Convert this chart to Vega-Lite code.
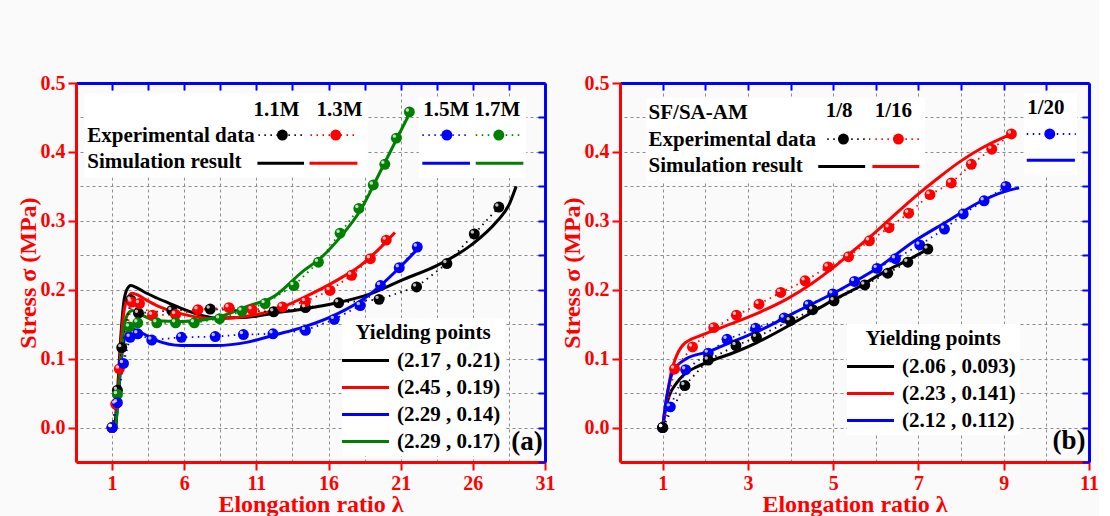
{
"$schema":"https://vega.github.io/schema/vega-lite/v6.json",
"background":"#fafafa",
"padding":{"left":16,"top":73,"right":0,"bottom":0},
"bounds":"flush",
"spacing":75,
"config":{
 "view":{"stroke":null},
 "axis":{"labelFont":"Liberation Serif","labelFontWeight":"bold","labelFontSize":20,"labelColor":"#ff0000","titleFont":"Liberation Serif","titleFontWeight":"bold","titleFontSize":24,"titleColor":"#ff0000","domainColor":"#ff0000","domainWidth":3,"tickColor":"#ff0000","tickWidth":2,"tickSize":8,"gridColor":"#8c8c8c","gridDash":[3,3],"gridWidth":1,"labelPadding":3,"titlePadding":0,"labelOverlap":false,"labelFlush":false,"labelBound":false},
 "axisBottom":{"titlePadding":-1},
 "text":{"font":"Liberation Serif","fontWeight":"bold","fontSize":21,"color":"black","baseline":"middle"},
 "rule":{"strokeWidth":3}
},
"datasets":{
 "a_sim":[
  {"s":"1.1M","x":1.2,"y":0},{"s":"1.1M","x":1.4,"y":0.06},{"s":"1.1M","x":1.6,"y":0.13},{"s":"1.1M","x":1.8,"y":0.18},{"s":"1.1M","x":2.0,"y":0.199},{"s":"1.1M","x":2.3,"y":0.206},{"s":"1.1M","x":2.7,"y":0.203},{"s":"1.1M","x":3.2,"y":0.197},{"s":"1.1M","x":4.1,"y":0.188},{"s":"1.1M","x":5.0,"y":0.18},{"s":"1.1M","x":5.8,"y":0.173},{"s":"1.1M","x":7.0,"y":0.164},{"s":"1.1M","x":8.3,"y":0.159},{"s":"1.1M","x":10.4,"y":0.16},{"s":"1.1M","x":12.2,"y":0.166},{"s":"1.1M","x":14.3,"y":0.172},{"s":"1.1M","x":16.6,"y":0.181},{"s":"1.1M","x":18.9,"y":0.194},{"s":"1.1M","x":21.2,"y":0.215},{"s":"1.1M","x":23.5,"y":0.235},{"s":"1.1M","x":25.9,"y":0.265},{"s":"1.1M","x":27.7,"y":0.3},{"s":"1.1M","x":28.5,"y":0.323},{"s":"1.1M","x":29.0,"y":0.35},
  {"s":"1.3M","x":1.25,"y":0},{"s":"1.3M","x":1.45,"y":0.06},{"s":"1.3M","x":1.65,"y":0.13},{"s":"1.3M","x":1.85,"y":0.172},{"s":"1.3M","x":2.1,"y":0.189},{"s":"1.3M","x":2.4,"y":0.195},{"s":"1.3M","x":2.8,"y":0.192},{"s":"1.3M","x":3.3,"y":0.186},{"s":"1.3M","x":4.1,"y":0.177},{"s":"1.3M","x":5.8,"y":0.165},{"s":"1.3M","x":8.3,"y":0.158},{"s":"1.3M","x":10.4,"y":0.162},{"s":"1.3M","x":12.2,"y":0.17},{"s":"1.3M","x":14.3,"y":0.189},{"s":"1.3M","x":16.6,"y":0.214},{"s":"1.3M","x":18.2,"y":0.235},{"s":"1.3M","x":19.4,"y":0.257},{"s":"1.3M","x":20.6,"y":0.283},
  {"s":"1.5M","x":1.25,"y":0},{"s":"1.5M","x":1.45,"y":0.05},{"s":"1.5M","x":1.65,"y":0.1},{"s":"1.5M","x":1.85,"y":0.128},{"s":"1.5M","x":2.1,"y":0.139},{"s":"1.5M","x":2.4,"y":0.143},{"s":"1.5M","x":2.9,"y":0.139},{"s":"1.5M","x":4.1,"y":0.126},{"s":"1.5M","x":5.8,"y":0.119},{"s":"1.5M","x":8.2,"y":0.119},{"s":"1.5M","x":10.4,"y":0.124},{"s":"1.5M","x":12.2,"y":0.134},{"s":"1.5M","x":14.3,"y":0.146},{"s":"1.5M","x":16.6,"y":0.165},{"s":"1.5M","x":18.45,"y":0.187},{"s":"1.5M","x":19.6,"y":0.206},{"s":"1.5M","x":21.2,"y":0.238},{"s":"1.5M","x":22.35,"y":0.263},
  {"s":"1.7M","x":1.25,"y":0},{"s":"1.7M","x":1.45,"y":0.05},{"s":"1.7M","x":1.65,"y":0.11},{"s":"1.7M","x":1.85,"y":0.148},{"s":"1.7M","x":2.1,"y":0.165},{"s":"1.7M","x":2.4,"y":0.17},{"s":"1.7M","x":2.9,"y":0.165},{"s":"1.7M","x":4.1,"y":0.155},{"s":"1.7M","x":5.8,"y":0.154},{"s":"1.7M","x":8.3,"y":0.16},{"s":"1.7M","x":10.4,"y":0.176},{"s":"1.7M","x":12.2,"y":0.19},{"s":"1.7M","x":14.3,"y":0.228},{"s":"1.7M","x":15.4,"y":0.245},{"s":"1.7M","x":16.8,"y":0.276},{"s":"1.7M","x":18.2,"y":0.315},{"s":"1.7M","x":19.6,"y":0.372},{"s":"1.7M","x":20.8,"y":0.422},{"s":"1.7M","x":21.5,"y":0.451}
 ],
 "a_exp":[
  {"s":"1.1M","x":1,"y":0},{"s":"1.1M","x":1.37,"y":0.054},{"s":"1.1M","x":1.67,"y":0.116},{"s":"1.1M","x":2.3,"y":0.185},{"s":"1.1M","x":2.83,"y":0.166},{"s":"1.1M","x":5.14,"y":0.17},{"s":"1.1M","x":7.8,"y":0.172},{"s":"1.1M","x":12.2,"y":0.168},{"s":"1.1M","x":14.4,"y":0.174},{"s":"1.1M","x":16.7,"y":0.181},{"s":"1.1M","x":19.5,"y":0.186},{"s":"1.1M","x":22.1,"y":0.204},{"s":"1.1M","x":24.2,"y":0.238},{"s":"1.1M","x":26.1,"y":0.281},{"s":"1.1M","x":27.8,"y":0.32},
  {"s":"1.3M","x":1,"y":0},{"s":"1.3M","x":1.25,"y":0.034},{"s":"1.3M","x":1.5,"y":0.085},{"s":"1.3M","x":2.37,"y":0.182},{"s":"1.3M","x":2.9,"y":0.18},{"s":"1.3M","x":3.8,"y":0.163},{"s":"1.3M","x":5.4,"y":0.164},{"s":"1.3M","x":6.95,"y":0.171},{"s":"1.3M","x":9.1,"y":0.174},{"s":"1.3M","x":10.7,"y":0.171},{"s":"1.3M","x":12.8,"y":0.175},{"s":"1.3M","x":14.4,"y":0.183},{"s":"1.3M","x":16.1,"y":0.199},{"s":"1.3M","x":17.6,"y":0.221},{"s":"1.3M","x":18.9,"y":0.245},{"s":"1.3M","x":20.0,"y":0.272},
  {"s":"1.7M","x":1,"y":0},{"s":"1.7M","x":1.37,"y":0.048},{"s":"1.7M","x":2.2,"y":0.146},{"s":"1.7M","x":2.78,"y":0.152},{"s":"1.7M","x":4.1,"y":0.152},{"s":"1.7M","x":5.4,"y":0.152},{"s":"1.7M","x":6.7,"y":0.152},{"s":"1.7M","x":8.45,"y":0.158},{"s":"1.7M","x":10.0,"y":0.169},{"s":"1.7M","x":11.6,"y":0.18},{"s":"1.7M","x":13.6,"y":0.206},{"s":"1.7M","x":15.3,"y":0.24},{"s":"1.7M","x":16.8,"y":0.282},{"s":"1.7M","x":18.1,"y":0.318},{"s":"1.7M","x":19.1,"y":0.352},{"s":"1.7M","x":19.9,"y":0.382},{"s":"1.7M","x":20.7,"y":0.42},{"s":"1.7M","x":21.6,"y":0.458},
  {"s":"1.5M","x":1,"y":0},{"s":"1.5M","x":1.37,"y":0.036},{"s":"1.5M","x":1.79,"y":0.093},{"s":"1.5M","x":2.25,"y":0.131},{"s":"1.5M","x":2.78,"y":0.136},{"s":"1.5M","x":3.75,"y":0.127},{"s":"1.5M","x":5.8,"y":0.131},{"s":"1.5M","x":8.15,"y":0.132},{"s":"1.5M","x":10.1,"y":0.135},{"s":"1.5M","x":12.15,"y":0.136},{"s":"1.5M","x":14.4,"y":0.141},{"s":"1.5M","x":16.4,"y":0.157},{"s":"1.5M","x":18.2,"y":0.177},{"s":"1.5M","x":19.6,"y":0.206},{"s":"1.5M","x":20.9,"y":0.232},{"s":"1.5M","x":22.15,"y":0.262}
 ],
 "b_sim":[
  {"s":"1/8","x":1,"y":0},{"s":"1/8","x":1.08,"y":0.03},{"s":"1/8","x":1.16,"y":0.047},{"s":"1/8","x":1.32,"y":0.064},{"s":"1/8","x":1.52,"y":0.078},{"s":"1/8","x":1.8,"y":0.088},{"s":"1/8","x":2.06,"y":0.095},{"s":"1/8","x":2.72,"y":0.11},{"s":"1/8","x":3.2,"y":0.123},{"s":"1/8","x":3.99,"y":0.149},{"s":"1/8","x":4.5,"y":0.167},{"s":"1/8","x":5.0,"y":0.185},{"s":"1/8","x":5.6,"y":0.204},{"s":"1/8","x":6.2,"y":0.226},{"s":"1/8","x":6.75,"y":0.243},{"s":"1/8","x":7.22,"y":0.259},
  {"s":"1/16","x":1,"y":0},{"s":"1/16","x":1.06,"y":0.03},{"s":"1/16","x":1.13,"y":0.055},{"s":"1/16","x":1.2,"y":0.08},{"s":"1/16","x":1.3,"y":0.1},{"s":"1/16","x":1.48,"y":0.12},{"s":"1/16","x":1.87,"y":0.133},{"s":"1/16","x":2.2,"y":0.141},{"s":"1/16","x":2.75,"y":0.154},{"s":"1/16","x":3.3,"y":0.168},{"s":"1/16","x":3.9,"y":0.186},{"s":"1/16","x":4.5,"y":0.209},{"s":"1/16","x":5.0,"y":0.232},{"s":"1/16","x":5.5,"y":0.258},{"s":"1/16","x":6.0,"y":0.284},{"s":"1/16","x":6.5,"y":0.312},{"s":"1/16","x":7.0,"y":0.339},{"s":"1/16","x":7.5,"y":0.364},{"s":"1/16","x":8.0,"y":0.387},{"s":"1/16","x":8.5,"y":0.406},{"s":"1/16","x":9.0,"y":0.421},{"s":"1/16","x":9.2,"y":0.426},
  {"s":"1/20","x":1,"y":0},{"s":"1/20","x":1.09,"y":0.042},{"s":"1/20","x":1.24,"y":0.081},{"s":"1/20","x":1.56,"y":0.1},{"s":"1/20","x":2.07,"y":0.11},{"s":"1/20","x":2.65,"y":0.125},{"s":"1/20","x":3.28,"y":0.141},{"s":"1/20","x":4.07,"y":0.166},{"s":"1/20","x":5.16,"y":0.2},{"s":"1/20","x":6.03,"y":0.231},{"s":"1/20","x":6.89,"y":0.27},{"s":"1/20","x":7.67,"y":0.299},{"s":"1/20","x":8.46,"y":0.328},{"s":"1/20","x":9.0,"y":0.342},{"s":"1/20","x":9.36,"y":0.348}
 ],
 "b_exp":[
  {"s":"1/16","x":1,"y":0},{"s":"1/16","x":1.28,"y":0.085},{"s":"1/16","x":1.7,"y":0.117},{"s":"1/16","x":2.2,"y":0.145},{"s":"1/16","x":2.73,"y":0.163},{"s":"1/16","x":3.26,"y":0.179},{"s":"1/16","x":3.77,"y":0.196},{"s":"1/16","x":4.34,"y":0.213},{"s":"1/16","x":4.88,"y":0.233},{"s":"1/16","x":5.36,"y":0.248},{"s":"1/16","x":5.85,"y":0.271},{"s":"1/16","x":6.31,"y":0.29},{"s":"1/16","x":6.77,"y":0.311},{"s":"1/16","x":7.27,"y":0.338},{"s":"1/16","x":7.77,"y":0.355},{"s":"1/16","x":8.24,"y":0.382},{"s":"1/16","x":8.72,"y":0.404},{"s":"1/16","x":9.18,"y":0.426},
  {"s":"1/20","x":1,"y":0},{"s":"1/20","x":1.18,"y":0.03},{"s":"1/20","x":1.54,"y":0.084},{"s":"1/20","x":2.07,"y":0.108},{"s":"1/20","x":2.51,"y":0.128},{"s":"1/20","x":3.18,"y":0.144},{"s":"1/20","x":3.85,"y":0.159},{"s":"1/20","x":4.42,"y":0.178},{"s":"1/20","x":4.99,"y":0.194},{"s":"1/20","x":5.5,"y":0.212},{"s":"1/20","x":6.03,"y":0.231},{"s":"1/20","x":6.46,"y":0.245},{"s":"1/20","x":7.03,"y":0.265},{"s":"1/20","x":7.61,"y":0.288},{"s":"1/20","x":8.05,"y":0.31},{"s":"1/20","x":8.54,"y":0.329},{"s":"1/20","x":9.05,"y":0.35},
  {"s":"1/8","x":1,"y":0},{"s":"1/8","x":1.52,"y":0.061},{"s":"1/8","x":2.07,"y":0.098},{"s":"1/8","x":2.72,"y":0.119},{"s":"1/8","x":3.2,"y":0.131},{"s":"1/8","x":3.99,"y":0.155},{"s":"1/8","x":4.52,"y":0.171},{"s":"1/8","x":5.02,"y":0.184},{"s":"1/8","x":5.74,"y":0.207},{"s":"1/8","x":6.28,"y":0.224},{"s":"1/8","x":6.75,"y":0.24},{"s":"1/8","x":7.22,"y":0.259}
 ]
},
"resolve":{"scale":{"color":"independent","fill":"independent","stroke":"independent"},"legend":{"color":"independent"}},
"hconcat":[
 {
  "width":469,"height":379,
  "resolve":{"axis":{"x":"independent","y":"independent"}},
  "layer":[
   {
    "data":{"values":[{}]},
    "layer":[
     {"mark":{"type":"rect","fill":"white"},"encoding":{"x":{"datum":-0.9},"x2":{"datum":18.7},"y":{"datum":0.485},"y2":{"datum":0.363}}},
     {"mark":{"type":"rect","fill":"white"},"encoding":{"x":{"datum":22.25},"x2":{"datum":29.7},"y":{"datum":0.48},"y2":{"datum":0.362}}},
     {"data":{"name":"a_sim"},"mark":{"type":"line","strokeWidth":3,"interpolate":"monotone"},
      "encoding":{
       "x":{"field":"x","type":"quantitative","scale":{"domain":[-1.5,31],"nice":false,"zero":false},
            "axis":{"title":"Elongation ratio λ","values":[1,6,11,16,21,26,31],"format":"d","grid":false}},
       "y":{"field":"y","type":"quantitative","scale":{"domain":[-0.05,0.5],"nice":false,"zero":false},
            "axis":{"title":"Stress σ (MPa)","values":[0,0.1,0.2,0.3,0.4,0.5],"format":".1f","grid":false}},
       "color":{"field":"s","type":"nominal","scale":{"domain":["1.1M","1.3M","1.5M","1.7M"],"range":["#000000","#ff0000","#0000ff","#008000"]},
            "legend":{"orient":"none","legendX":266,"legendY":235,"title":"Yielding points","titleFont":"Liberation Serif","titleFontSize":21,"titleFontWeight":"bold","titleColor":"black","titleAnchor":"middle","titlePadding":4,"labelFont":"Liberation Serif","labelFontSize":21,"labelFontWeight":"bold","labelColor":"black","symbolType":"M-2,0H2","symbolSize":552,"symbolStrokeWidth":3,"symbolOffset":6,"labelOffset":18,"rowPadding":3,"padding":4,"fillColor":"white",
             "labelExpr":"datum.label=='1.1M' ? '(2.17 , 0.21)' : datum.label=='1.3M' ? '(2.45 , 0.19)' : datum.label=='1.5M' ? '(2.29 , 0.14)' : '(2.29 , 0.17)'"}}}},
     {"data":{"name":"a_exp"},"mark":{"type":"line","strokeWidth":1.8,"strokeDash":[1.5,4.5]},
      "encoding":{"x":{"field":"x","type":"quantitative"},"y":{"field":"y","type":"quantitative"},
       "stroke":{"field":"s","type":"nominal","scale":{"domain":["1.1M","1.3M","1.5M","1.7M"],"range":["#000000","#ff0000","#0000ff","#008000"]},"legend":null}}},
     {"data":{"name":"a_exp"},"mark":{"type":"point","filled":true,"size":120,"opacity":1},
      "encoding":{"x":{"field":"x","type":"quantitative"},"y":{"field":"y","type":"quantitative"},
       "fill":{"field":"s","type":"nominal","scale":{"domain":["1.1M","1.3M","1.5M","1.7M"],"range":["#000000","#ff0000","#0000ff","#008000"]},"legend":null}}},
     {"data":{"name":"a_exp"},"mark":{"type":"point","filled":true,"size":12,"opacity":0.75,"color":"white","xOffset":-2,"yOffset":-2},
      "encoding":{"x":{"field":"x","type":"quantitative"},"y":{"field":"y","type":"quantitative"}}},
     {"mark":{"type":"text","align":"center"},"encoding":{"x":{"datum":12.4},"y":{"datum":0.461},"text":{"value":"1.1M"}}},
     {"mark":{"type":"text","align":"center"},"encoding":{"x":{"datum":16.76},"y":{"datum":0.461},"text":{"value":"1.3M"}}},
     {"mark":{"type":"text","align":"center"},"encoding":{"x":{"datum":24.16},"y":{"datum":0.461},"text":{"value":"1.5M"}}},
     {"mark":{"type":"text","align":"center"},"encoding":{"x":{"datum":27.7},"y":{"datum":0.461},"text":{"value":"1.7M"}}},
     {"mark":{"type":"text","align":"left"},"encoding":{"x":{"datum":-0.72},"y":{"datum":0.423},"text":{"value":"Experimental data"}}},
     {"mark":{"type":"text","align":"left"},"encoding":{"x":{"datum":-0.72},"y":{"datum":0.385},"text":{"value":"Simulation result"}}},
     {"mark":{"type":"rule","color":"#000000","strokeWidth":1.8,"strokeDash":[1.5,4.5]},"encoding":{"x":{"datum":11.14},"x2":{"datum":14.4},"y":{"datum":0.4244}}},
     {"mark":{"type":"rule","color":"#ff0000","strokeWidth":1.8,"strokeDash":[1.5,4.5]},"encoding":{"x":{"datum":14.75},"x2":{"datum":18.0},"y":{"datum":0.4244}}},
     {"mark":{"type":"rule","color":"#0000ff","strokeWidth":1.8,"strokeDash":[1.5,4.5]},"encoding":{"x":{"datum":22.5},"x2":{"datum":25.8},"y":{"datum":0.4244}}},
     {"mark":{"type":"rule","color":"#008000","strokeWidth":1.8,"strokeDash":[1.5,4.5]},"encoding":{"x":{"datum":26.2},"x2":{"datum":29.5},"y":{"datum":0.4244}}},
     {"mark":{"type":"point","filled":true,"size":120,"opacity":1,"color":"#000000"},"encoding":{"x":{"datum":12.8},"y":{"datum":0.4244}}},
     {"mark":{"type":"point","filled":true,"size":120,"opacity":1,"color":"#ff0000"},"encoding":{"x":{"datum":16.5},"y":{"datum":0.4244}}},
     {"mark":{"type":"point","filled":true,"size":120,"opacity":1,"color":"#0000ff"},"encoding":{"x":{"datum":24.2},"y":{"datum":0.4244}}},
     {"mark":{"type":"point","filled":true,"size":120,"opacity":1,"color":"#008000"},"encoding":{"x":{"datum":27.8},"y":{"datum":0.4244}}},
     {"mark":{"type":"rule","color":"#000000"},"encoding":{"x":{"datum":11.07},"x2":{"datum":14.3},"y":{"datum":0.3837}}},
     {"mark":{"type":"rule","color":"#ff0000"},"encoding":{"x":{"datum":14.68},"x2":{"datum":18.0},"y":{"datum":0.3837}}},
     {"mark":{"type":"rule","color":"#0000ff"},"encoding":{"x":{"datum":22.5},"x2":{"datum":25.8},"y":{"datum":0.3837}}},
     {"mark":{"type":"rule","color":"#008000"},"encoding":{"x":{"datum":26.2},"x2":{"datum":29.5},"y":{"datum":0.3837}}},
     {"mark":{"type":"text","align":"center","fontSize":27},"encoding":{"x":{"datum":29.75},"y":{"datum":-0.021},"text":{"value":"(a)"}}}
    ]
   },
   {
    "data":{"values":[{}]},
    "mark":{"type":"point","opacity":0},
    "encoding":{
     "x":{"datum":1,"type":"quantitative","scale":{"domain":[-1.5,31],"nice":false,"zero":false},"axis":{"orient":"top","values":[-1.5,1,3.5,6,8.5,11,13.5,16,18.5,21,23.5,26,28.5,31],"labels":false,"grid":true,"title":null,"domainColor":"#0000ff","tickColor":"#0000ff","tickSize":-7}},
     "y":{"datum":0,"type":"quantitative","scale":{"domain":[-0.05,0.5],"nice":false,"zero":false},"axis":{"orient":"right","values":[-0.05,0,0.05,0.1,0.15,0.2,0.25,0.3,0.35,0.4,0.45,0.5],"labels":false,"grid":true,"title":null,"domainColor":"#0000ff","tickColor":"#0000ff","tickSize":-7}}
    }
   }
  ]
 },
 {
  "width":469,"height":379,
  "resolve":{"axis":{"x":"independent","y":"independent"}},
  "layer":[
   {
    "data":{"values":[{}]},
    "layer":[
     {"mark":{"type":"rect","fill":"white"},"encoding":{"x":{"datum":0.62},"x2":{"datum":7.16},"y":{"datum":0.478},"y2":{"datum":0.358}}},
     {"mark":{"type":"rect","fill":"white"},"encoding":{"x":{"datum":9.47},"x2":{"datum":10.72},"y":{"datum":0.485},"y2":{"datum":0.366}}},
     {"data":{"name":"b_sim"},"mark":{"type":"line","strokeWidth":3,"interpolate":"monotone"},
      "encoding":{
       "x":{"field":"x","type":"quantitative","scale":{"domain":[0,11],"nice":false,"zero":false},
            "axis":{"title":"Elongation ratio λ","values":[1,3,5,7,9,11],"format":"d","grid":false}},
       "y":{"field":"y","type":"quantitative","scale":{"domain":[-0.05,0.5],"nice":false,"zero":false},
            "axis":{"title":"Stress σ (MPa)","values":[0,0.1,0.2,0.3,0.4,0.5],"format":".1f","grid":false}},
       "color":{"field":"s","type":"nominal","scale":{"domain":["1/8","1/16","1/20"],"range":["#000000","#ff0000","#0000ff"]},
            "legend":{"orient":"none","legendX":227,"legendY":241,"title":"Yielding points","titleFont":"Liberation Serif","titleFontSize":21,"titleFontWeight":"bold","titleColor":"black","titleAnchor":"middle","titlePadding":4,"labelFont":"Liberation Serif","labelFontSize":21,"labelFontWeight":"bold","labelColor":"black","symbolType":"M-2,0H2","symbolSize":552,"symbolStrokeWidth":3,"symbolOffset":6,"labelOffset":18,"rowPadding":3,"padding":4,"fillColor":"white",
             "labelExpr":"datum.label=='1/8' ? '(2.06 , 0.093)' : datum.label=='1/16' ? '(2.23 , 0.141)' : '(2.12 , 0.112)'"}}}},
     {"data":{"name":"b_exp"},"mark":{"type":"line","strokeWidth":1.8,"strokeDash":[1.5,4.5]},
      "encoding":{"x":{"field":"x","type":"quantitative"},"y":{"field":"y","type":"quantitative"},
       "stroke":{"field":"s","type":"nominal","scale":{"domain":["1/8","1/16","1/20"],"range":["#000000","#ff0000","#0000ff"]},"legend":null}}},
     {"data":{"name":"b_exp"},"mark":{"type":"point","filled":true,"size":120,"opacity":1},
      "encoding":{"x":{"field":"x","type":"quantitative"},"y":{"field":"y","type":"quantitative"},
       "fill":{"field":"s","type":"nominal","scale":{"domain":["1/8","1/16","1/20"],"range":["#000000","#ff0000","#0000ff"]},"legend":null}}},
     {"data":{"name":"b_exp"},"mark":{"type":"point","filled":true,"size":12,"opacity":0.75,"color":"white","xOffset":-2,"yOffset":-2},
      "encoding":{"x":{"field":"x","type":"quantitative"},"y":{"field":"y","type":"quantitative"}}},
     {"mark":{"type":"text","align":"left"},"encoding":{"x":{"datum":0.67},"y":{"datum":0.456},"text":{"value":"SF/SA-AM"}}},
     {"mark":{"type":"text","align":"center"},"encoding":{"x":{"datum":5.14},"y":{"datum":0.459},"text":{"value":"1/8"}}},
     {"mark":{"type":"text","align":"center"},"encoding":{"x":{"datum":6.41},"y":{"datum":0.459},"text":{"value":"1/16"}}},
     {"mark":{"type":"text","align":"center"},"encoding":{"x":{"datum":9.99},"y":{"datum":0.464},"text":{"value":"1/20"}}},
     {"mark":{"type":"text","align":"left"},"encoding":{"x":{"datum":0.67},"y":{"datum":0.417},"text":{"value":"Experimental data"}}},
     {"mark":{"type":"text","align":"left"},"encoding":{"x":{"datum":0.67},"y":{"datum":0.379},"text":{"value":"Simulation result"}}},
     {"mark":{"type":"rule","color":"#000000","strokeWidth":1.8,"strokeDash":[1.5,4.5]},"encoding":{"x":{"datum":4.86},"x2":{"datum":5.87},"y":{"datum":0.4186}}},
     {"mark":{"type":"rule","color":"#ff0000","strokeWidth":1.8,"strokeDash":[1.5,4.5]},"encoding":{"x":{"datum":5.99},"x2":{"datum":7.09},"y":{"datum":0.4186}}},
     {"mark":{"type":"rule","color":"#0000ff","strokeWidth":1.8,"strokeDash":[1.5,4.5]},"encoding":{"x":{"datum":9.54},"x2":{"datum":10.69},"y":{"datum":0.426}}},
     {"mark":{"type":"point","filled":true,"size":120,"opacity":1,"color":"#000000"},"encoding":{"x":{"datum":5.24},"y":{"datum":0.4186}}},
     {"mark":{"type":"point","filled":true,"size":120,"opacity":1,"color":"#ff0000"},"encoding":{"x":{"datum":6.53},"y":{"datum":0.4186}}},
     {"mark":{"type":"point","filled":true,"size":120,"opacity":1,"color":"#0000ff"},"encoding":{"x":{"datum":10.08},"y":{"datum":0.426}}},
     {"mark":{"type":"rule","color":"#000000"},"encoding":{"x":{"datum":4.65},"x2":{"datum":5.75},"y":{"datum":0.379}}},
     {"mark":{"type":"rule","color":"#ff0000"},"encoding":{"x":{"datum":5.92},"x2":{"datum":7.02},"y":{"datum":0.379}}},
     {"mark":{"type":"rule","color":"#0000ff"},"encoding":{"x":{"datum":9.54},"x2":{"datum":10.67},"y":{"datum":0.388}}},
     {"mark":{"type":"text","align":"center","fontSize":27},"encoding":{"x":{"datum":10.53},"y":{"datum":-0.02},"text":{"value":"(b)"}}}
    ]
   },
   {
    "data":{"values":[{}]},
    "mark":{"type":"point","opacity":0},
    "encoding":{
     "x":{"datum":1,"type":"quantitative","scale":{"domain":[0,11],"nice":false,"zero":false},"axis":{"orient":"top","values":[0,1,2,3,4,5,6,7,8,9,10,11],"labels":false,"grid":true,"title":null,"domainColor":"#0000ff","tickColor":"#0000ff","tickSize":-7}},
     "y":{"datum":0,"type":"quantitative","scale":{"domain":[-0.05,0.5],"nice":false,"zero":false},"axis":{"orient":"right","values":[-0.05,0,0.05,0.1,0.15,0.2,0.25,0.3,0.35,0.4,0.45,0.5],"labels":false,"grid":true,"title":null,"domainColor":"#0000ff","tickColor":"#0000ff","tickSize":-7}}
    }
   }
  ]
 }
]
}
